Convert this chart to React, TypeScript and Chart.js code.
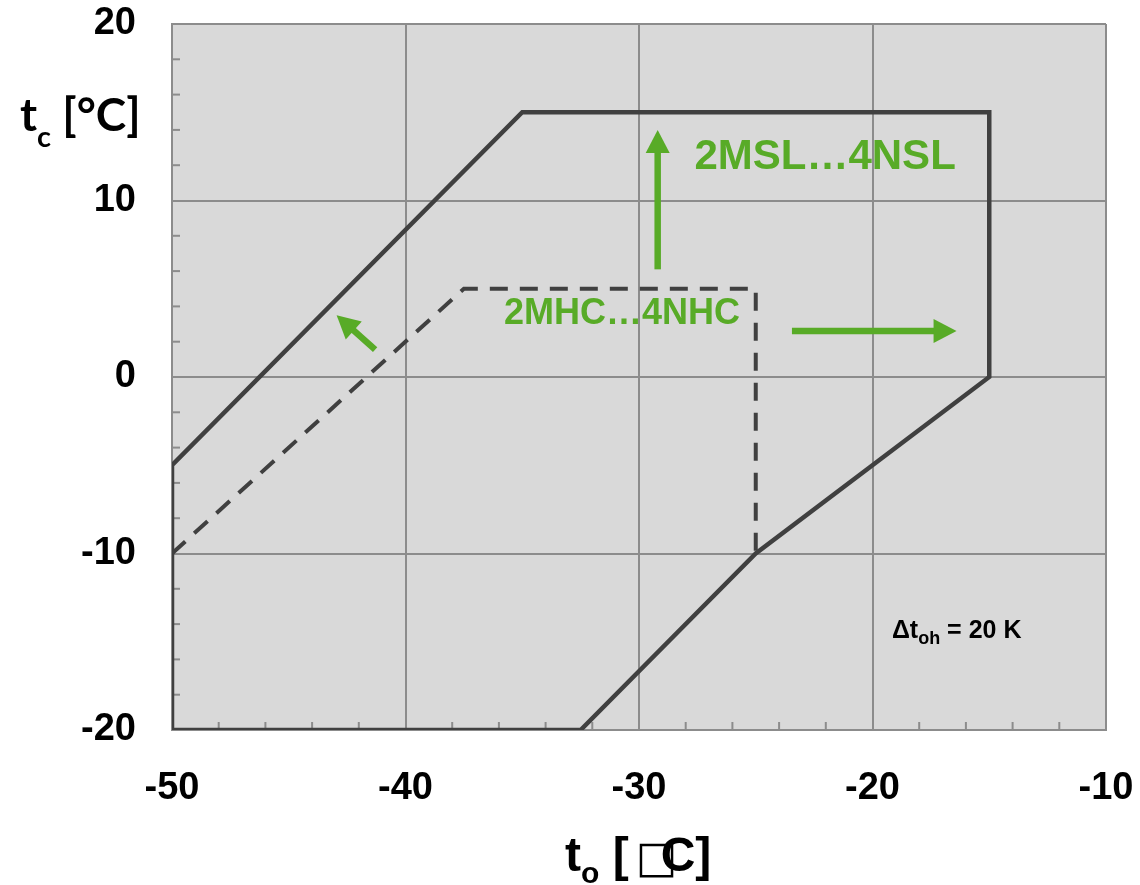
import React, { useEffect, useRef } from "react";
import { Chart, registerables } from "chart.js";

Chart.register(...registerables);

// Axis ranges and tick labels
const xTickValues = [-50, -40, -30, -20, -10];
const yTickValues = [-20, -10, 0, 10, 20];
const minorXTicks = [-48, -46, -44, -42, -38, -36, -34, -32, -28, -26, -24, -22, -18, -16, -14, -12];
const minorYTicks = [-18, -16, -14, -12, -8, -6, -4, -2, 2, 4, 6, 8, 12, 14, 16, 18];

// 2MSL...4NSL envelope (solid)
const mslTo = [-50, -50, -35, -15, -15, -25, -32.5, -50];
const mslTc = [-20, -5, 15, 15, 0, -10, -20, -20];

// 2MHC...4NHC envelope (dashed)
const mhcTo = [-50, -37.5, -25, -25];
const mhcTc = [-10, 5, 5, -10];

// Green arrows (tail -> tip), in data coordinates
const arrowTailTo = [-29.2, -23.45, -41.3];
const arrowTailTc = [6.1, 2.6, 1.55];
const arrowTipTo = [-29.2, -16.4, -42.95];
const arrowTipTc = [14.0, 2.6, 3.5];

// Annotation texts
const seriesLabels = ["2MSL\u20264NSL", "2MHC\u20264NHC"];
const seriesLabelTo = [-22.03, -30.73];
const seriesLabelTc = [12.46, 3.57];
const noteTo = -19.17;
const noteTc = -14.79;

const GREEN = "#58ab27";
const DARK = "#404040";
const GRID = "#8c8c8c";

function drawArrow(ctx: CanvasRenderingContext2D, x1: number, y1: number, x2: number, y2: number) {
  const shaft = 6.5;
  const headLen = 23;
  const headW = 24;
  const a = Math.atan2(y2 - y1, x2 - x1);
  const bx = x2 - headLen * Math.cos(a);
  const by = y2 - headLen * Math.sin(a);
  ctx.save();
  ctx.strokeStyle = GREEN;
  ctx.fillStyle = GREEN;
  ctx.lineWidth = shaft;
  ctx.lineCap = "butt";
  ctx.beginPath();
  ctx.moveTo(x1, y1);
  ctx.lineTo(bx + Math.cos(a), by + Math.sin(a));
  ctx.stroke();
  const px = -Math.sin(a);
  const py = Math.cos(a);
  ctx.beginPath();
  ctx.moveTo(x2, y2);
  ctx.lineTo(bx + px * headW / 2, by + py * headW / 2);
  ctx.lineTo(bx - px * headW / 2, by - py * headW / 2);
  ctx.closePath();
  ctx.fill();
  ctx.restore();
}

const decorPlugin = {
  id: "decor",
  beforeDraw(chart: any) {
    const { ctx, chartArea } = chart;
    ctx.save();
    ctx.fillStyle = "#d9d9d9";
    ctx.fillRect(chartArea.left, chartArea.top, chartArea.right - chartArea.left, chartArea.bottom - chartArea.top);
    ctx.restore();
  },
  beforeDatasetsDraw(chart: any) {
    const { ctx, chartArea, scales } = chart;
    ctx.save();
    ctx.strokeStyle = GRID;
    ctx.lineWidth = 2;
    minorYTicks.forEach((v) => {
      const y = scales.y.getPixelForValue(v);
      ctx.beginPath();
      ctx.moveTo(chartArea.left, y);
      ctx.lineTo(chartArea.left + 8, y);
      ctx.stroke();
    });
    minorXTicks.forEach((v) => {
      const x = scales.x.getPixelForValue(v);
      ctx.beginPath();
      ctx.moveTo(x, chartArea.bottom);
      ctx.lineTo(x, chartArea.bottom - 8);
      ctx.stroke();
    });
    ctx.restore();
  },
  afterDatasetsDraw(chart: any) {
    const { ctx, scales } = chart;
    const sx = scales.x;
    const sy = scales.y;
    arrowTailTo.forEach((_, i) => {
      drawArrow(
        ctx,
        sx.getPixelForValue(arrowTailTo[i]),
        sy.getPixelForValue(arrowTailTc[i]),
        sx.getPixelForValue(arrowTipTo[i]),
        sy.getPixelForValue(arrowTipTc[i])
      );
    });
    ctx.save();
    ctx.fillStyle = GREEN;
    ctx.textAlign = "center";
    ctx.textBaseline = "middle";
    const sizes = [42, 36];
    seriesLabels.forEach((t, i) => {
      ctx.font = `bold ${sizes[i]}px "Liberation Sans", Arial, sans-serif`;
      ctx.fillText(t, sx.getPixelForValue(seriesLabelTo[i]), sy.getPixelForValue(seriesLabelTc[i]));
    });
    // Delta t_oh = 20 K
    ctx.fillStyle = "#000";
    ctx.textAlign = "left";
    ctx.textBaseline = "alphabetic";
    let x = sx.getPixelForValue(noteTo);
    const y = sy.getPixelForValue(noteTc);
    ctx.font = `bold 25px "Liberation Sans", Arial, sans-serif`;
    ctx.fillText("\u0394t", x, y);
    x += ctx.measureText("\u0394t").width;
    ctx.font = `bold 18px "Liberation Sans", Arial, sans-serif`;
    ctx.fillText("oh", x, y + 6);
    x += ctx.measureText("oh").width;
    ctx.font = `bold 25px "Liberation Sans", Arial, sans-serif`;
    ctx.fillText(" = 20 K", x, y);
    ctx.restore();
  },
  afterDraw(chart: any) {
    const { ctx } = chart;
    ctx.save();
    ctx.fillStyle = "#000";
    ctx.textBaseline = "alphabetic";
    ctx.textAlign = "left";
    // Y title: t_c [°C]
    let x = 20;
    const yb = 131;
    ctx.font = `bold 46px Lato, "Open Sans", sans-serif`;
    ctx.fillText("t", x, yb);
    x += ctx.measureText("t").width;
    ctx.font = `bold 29px Lato, "Open Sans", sans-serif`;
    ctx.fillText("c", x, yb + 16);
    x += ctx.measureText("c").width;
    ctx.font = `bold 46px Lato, "Open Sans", sans-serif`;
    ctx.fillText(" [\u00B0C]", x, yb);

    // X title: t_o [□C]
    let x2 = 565;
    const xb = 871;
    ctx.font = `bold 48px "Liberation Sans", Arial, sans-serif`;
    ctx.fillText("t", x2, xb);
    x2 += ctx.measureText("t").width;
    ctx.font = `bold 30px "Liberation Sans", Arial, sans-serif`;
    ctx.fillText("o", x2, xb + 12);
    x2 += ctx.measureText("o").width;
    ctx.font = `bold 48px "Liberation Sans", Arial, sans-serif`;
    ctx.fillText(" [", x2, xb);
    x2 += ctx.measureText(" [").width;
    ctx.font = `44px "DejaVu Sans", sans-serif`;
    ctx.fillText("\u25A1", x2 + 7, xb + 1);
    ctx.font = `bold 48px "Liberation Sans", Arial, sans-serif`;
    ctx.fillText("C]", x2 + 32, xb);
    ctx.restore();
  },
};

export default function App() {
  const ref = useRef<HTMLCanvasElement | null>(null);
  useEffect(() => {
    document.body.style.margin = "0";
    const canvas = ref.current;
    if (!canvas) return;
    const tickFont = { family: '"Liberation Sans", Arial, sans-serif', size: 38, weight: "bold" as const };
    const chart = new Chart(canvas, {
      type: "scatter",
      data: {
        datasets: [
          {
            label: "2MSL...4NSL",
            data: mslTo.map((v, i) => ({ x: v, y: mslTc[i] })),
            showLine: true,
            borderColor: DARK,
            borderWidth: 4.5,
            pointRadius: 0,
            fill: false,
            borderJoinStyle: "miter",
          },
          {
            label: "2MHC...4NHC",
            data: mhcTo.map((v, i) => ({ x: v, y: mhcTc[i] })),
            showLine: true,
            borderColor: DARK,
            borderWidth: 4,
            borderDash: [18, 12],
            pointRadius: 0,
            fill: false,
          },
        ],
      },
      options: {
        animation: false,
        responsive: false,
        maintainAspectRatio: false,
        layout: { padding: { top: 24, right: 34, left: 0, bottom: 0 } },
        plugins: { legend: { display: false }, tooltip: { enabled: false } },
        scales: {
          x: {
            type: "linear",
            min: -50,
            max: -10,
            afterBuildTicks: (s: any) => {
              s.ticks = xTickValues.map((v) => ({ value: v }));
            },
            afterFit: (s: any) => {
              s.height = 155;
              s.paddingLeft = 0;
              s.paddingRight = 0;
            },
            grid: { color: GRID, lineWidth: 2, drawTicks: false },
            border: { display: true, color: GRID, width: 2 },
            ticks: { font: tickFont, color: "#000", padding: 36, maxRotation: 0, autoSkip: false },
          },
          y: {
            type: "linear",
            min: -20,
            max: 20,
            afterBuildTicks: (s: any) => {
              s.ticks = yTickValues.map((v) => ({ value: v }));
            },
            afterFit: (s: any) => {
              s.width = 172;
              s.paddingTop = 0;
              s.paddingBottom = 0;
            },
            grid: { color: GRID, lineWidth: 2, drawTicks: false },
            border: { display: true, color: GRID, width: 2 },
            ticks: { font: tickFont, color: "#000", padding: 36, autoSkip: false },
          },
        },
      },
      plugins: [decorPlugin],
    });
    return () => chart.destroy();
  }, []);
  return <canvas ref={ref} width={1140} height={885} style={{ display: "block" }} />;
}
